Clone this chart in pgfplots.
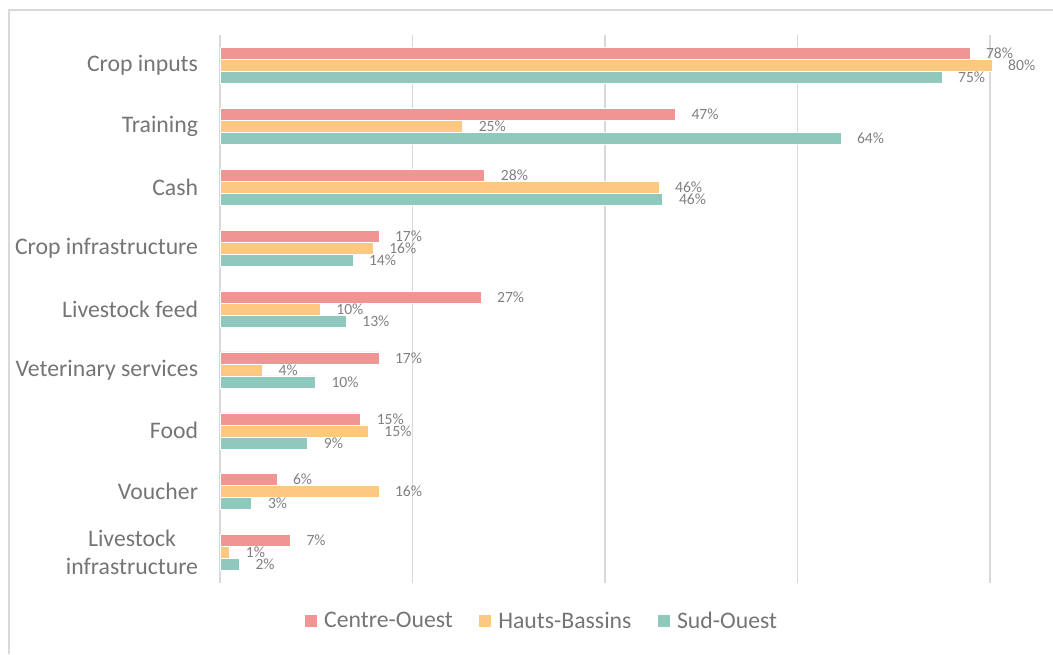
\documentclass[border=0pt]{standalone}
\usepackage{fontspec}
\setmainfont{Carlito}
\usepackage{pgfplots}
\pgfplotsset{compat=1.18}

\definecolor{coRed}{HTML}{F19594}
\definecolor{hbOrange}{HTML}{FFC882}
\definecolor{soTeal}{HTML}{8FC9BE}
\definecolor{gridgray}{HTML}{D9D9D9}
\definecolor{txtgray}{HTML}{757575}
\definecolor{lblgray}{HTML}{808080}

\begin{document}
\begin{tikzpicture}
% 1px = 0.75pt; plot area is 770x548 px
\useasboundingbox (-165pt,-53.25pt) rectangle (624.75pt,437.25pt);
\draw[gridgray, line width=1pt] (-158.25pt,-53.25pt) -- (-158.25pt,429.75pt) -- (624.75pt,429.75pt);
\begin{axis}[
    at={(0,0)}, anchor=south west,
    scale only axis,
    width=577.5pt, height=411pt,
    xbar=0pt,
    bar width=9pt,
    xmin=0, xmax=80,
    ymin=-0.5, ymax=8.5,
    clip=false,
    xtick={0,20,40,60,80},
    xticklabels={},
    grid=major,
    ymajorgrids=false,
    major grid style={draw=gridgray, line width=1.4pt},
    axis line style={draw=none},
    tick style={draw=none},
    ytick={0,...,8},
    yticklabels={{Livestock\\infrastructure},Voucher,Food,Veterinary services,
        Livestock feed,Crop infrastructure,Cash,Training,Crop inputs},
    yticklabel style={anchor=east, inner sep=0pt, xshift=-12pt, align=center,
        font=\fontsize{17.8}{21.4}\selectfont, text=txtgray},
    /pgf/number format/assume math mode=true,
    point meta=explicit,
    nodes near coords={\pgfmathprintnumber{\pgfplotspointmeta}\%},
    nodes near coords style={anchor=west, inner sep=0pt, xshift=12pt,
        font=\fontsize{11.7}{13}\selectfont, text=lblgray},
    legend columns=-1,
    legend style={at={(0.418,-0.0693)}, anchor=center, draw=none, fill=none,
        font=\fontsize{17.8}{21}\selectfont, text=txtgray,
        /tikz/every odd column/.append style={column sep=3pt},
        /tikz/every even column/.append style={column sep=17pt}},
    legend image code/.code={\fill[#1] (0pt,-4.9pt) rectangle (9.75pt,4.9pt);},
]
\addplot[fill=coRed, draw=white, line width=0.4pt, bar shift=9pt] coordinates {
    (77.9,8) [78] (47.3,7) [47] (27.5,6) [28] (16.5,5) [17] (27.1,4) [27]
    (16.5,3) [17] (14.6,2) [15] (5.9,1) [6] (7.3,0) [7]};
\addplot[fill=hbOrange, draw=white, line width=0.4pt, bar shift=0pt] coordinates {
    (80.2,8) [80] (25.2,7) [25] (45.6,6) [46] (15.9,5) [16] (10.4,4) [10]
    (4.4,3) [4] (15.4,2) [15] (16.5,1) [16] (1.0,0) [1]};
\addplot[fill=soTeal, draw=white, line width=0.4pt, bar shift=-9pt] coordinates {
    (75.0,8) [75] (64.5,7) [64] (46.0,6) [46] (13.8,5) [14] (13.1,4) [13]
    (9.9,3) [10] (9.1,2) [9] (3.3,1) [3] (2.0,0) [2]};
\legend{Centre-Ouest, Hauts-Bassins, Sud-Ouest}
\end{axis}
\end{tikzpicture}
\end{document}
